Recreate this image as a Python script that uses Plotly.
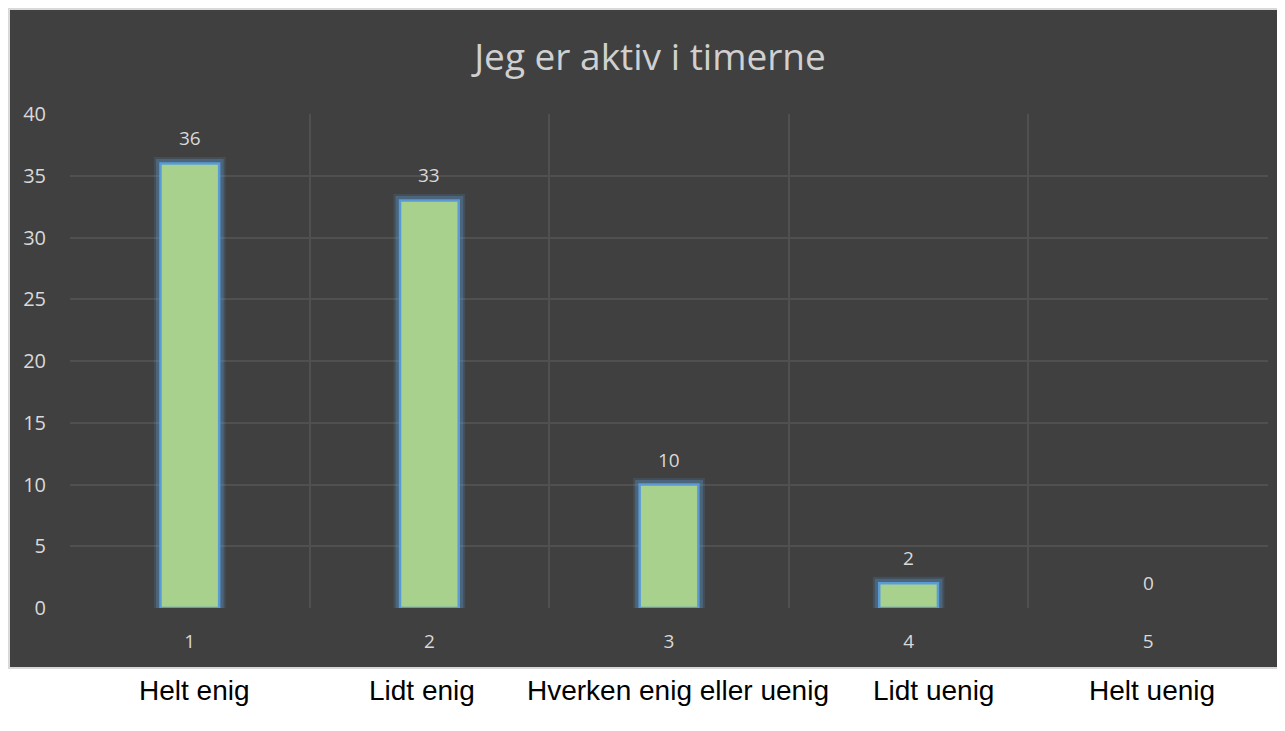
import plotly.graph_objects as go

# ---- data ----
categories = [1, 2, 3, 4, 5]
values = [36, 33, 10, 2, 0]
category_labels = ["Helt enig", "Lidt enig", "Hverken enig eller uenig", "Lidt uenig", "Helt uenig"]
y_ticks = [0, 5, 10, 15, 20, 25, 30, 35, 40]
title_text = "Jeg er aktiv i timerne"

# ---- layout geometry (page pixels; the page body has an 8px margin) ----
W, H = 1285, 731
OFF = 8
PL, PR, PT, PB = 70, 1268, 114, 608  # plot area in page pixels
PW, PH = PR - PL, PB - PT
L, T = PL - OFF, PT - OFF
R, B = W - L - PW, H - T - PH


def px_x(x):
    return (x - PL) / PW


def px_y(y):
    return (PB - y) / PH


label_xshift = [5, -7, 9, 25, 4]

BG = "#404040"
GRID = "#505050"
TXT = "#d9d9d9"

fig = go.Figure()

line_w = [2.5 if v > 0 else 0 for v in values]
glow_w = [9 if v > 0 else 0 for v in values]
glow_w2 = [13 if v > 0 else 0 for v in values]

# glow behind bars
fig.add_trace(go.Bar(
    x=categories, y=values, width=0.245,
    marker=dict(color="rgba(0,0,0,0)", line=dict(color="rgba(91,155,213,0.16)", width=glow_w2)),
    hoverinfo="skip", showlegend=False,
))
fig.add_trace(go.Bar(
    x=categories, y=values, width=0.245,
    marker=dict(color="rgba(0,0,0,0)", line=dict(color="rgba(91,155,213,0.3)", width=glow_w)),
    hoverinfo="skip", showlegend=False,
))
fig.add_trace(go.Bar(
    x=categories, y=values, width=0.245,
    marker=dict(color="#a9d18e", line=dict(color="#5b9bd5", width=line_w)),
    showlegend=False,
))

# data labels
for c, v in zip(categories, values):
    fig.add_annotation(x=c, y=v, xref="x", yref="y", text=str(v), showarrow=False,
                       yshift=25, yanchor="middle",
                       font=dict(family="Open Sans", size=19, color=TXT))

# category labels below chart
for c, lab, dx in zip(categories, category_labels, label_xshift):
    fig.add_annotation(x=c, y=px_y(690), xref="x", yref="paper", text=lab, showarrow=False,
                       xshift=dx, yanchor="middle",
                       font=dict(family="Liberation Sans, Arial", size=28, color="#000000"))

# dark chart box
fig.add_shape(type="rect", xref="paper", yref="paper", layer="below",
              x0=px_x(9), x1=px_x(1278), y0=px_y(668), y1=px_y(9),
              fillcolor=BG, line=dict(color="#d9d9d9", width=2))

fig.update_layout(
    width=W, height=H,
    margin=dict(l=L, r=R, t=T, b=B),
    paper_bgcolor="white", plot_bgcolor=BG,
    barmode="overlay",
    title=dict(text=title_text, x=px_x(650), xref="paper", xanchor="center",
               y=1 - (57 - OFF) / H, yanchor="middle",
               font=dict(family="Open Sans", size=37, color="#d0d0d0")),
    xaxis=dict(range=[0.5, 5.5], tickvals=categories, ticktext=[str(c) for c in categories],
               showgrid=False, zeroline=False, showline=False, ticks="",
               ticklabelstandoff=20,
               tickfont=dict(family="Open Sans", size=19, color=TXT),
               minor=dict(tickvals=[0.5, 1.5, 2.5, 3.5, 4.5, 5.5], showgrid=True,
                          gridcolor=GRID, gridwidth=1.5, ticks="")),
    yaxis=dict(range=[0, 40], tickvals=y_ticks, showgrid=True, gridcolor=GRID, gridwidth=1.5,
               zeroline=False, showline=False, ticks="", ticklabelstandoff=23,
               tickfont=dict(family="Open Sans", size=20, color=TXT)),
)

fig.write_html("out.html")
